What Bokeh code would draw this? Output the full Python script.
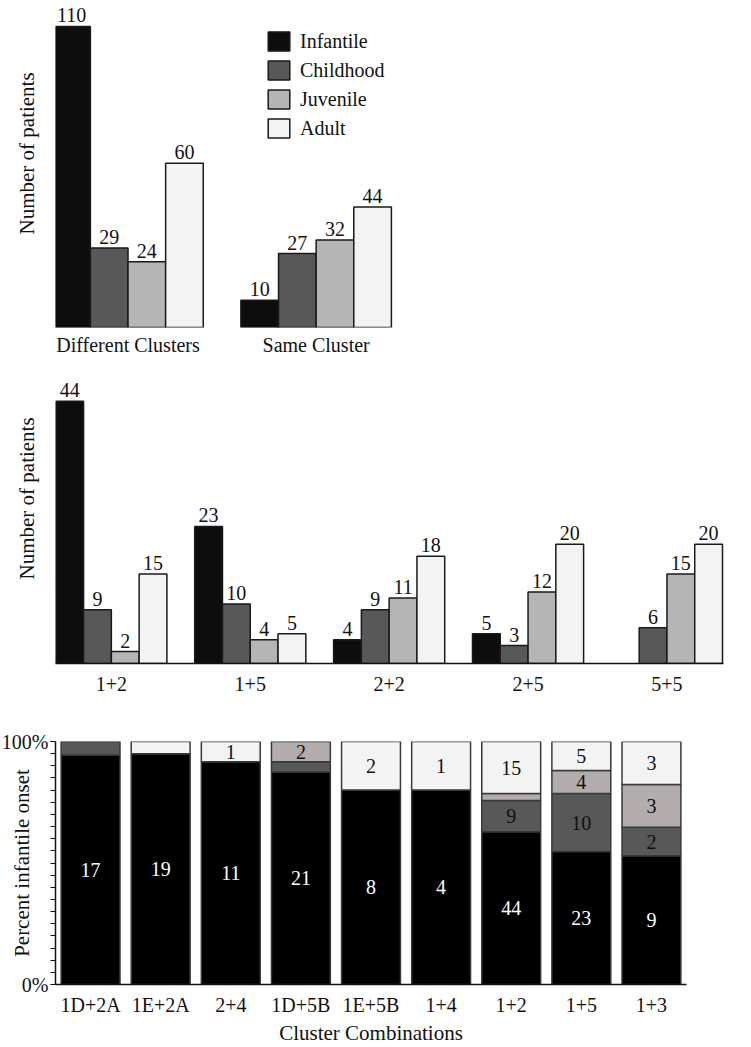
import numpy as np
from bokeh.plotting import figure
from bokeh.models import Range1d, FixedTicker, Legend, LegendItem, ColumnDataSource, Title
from bokeh.layouts import column
from bokeh.core.properties import value
from bokeh.embed import file_html
from bokeh.resources import INLINE

# ---------------- data ----------------
onsets = ["Infantile", "Childhood", "Juvenile", "Adult"]

groups_a = ["Different Clusters", "Same Cluster"]
infantile_a = [110, 10]
childhood_a = [29, 27]
juvenile_a = [24, 32]
adult_a = [60, 44]

groups_b = ["1+2", "1+5", "2+2", "2+5", "5+5"]
infantile_b = [44, 23, 4, 5, 0]
childhood_b = [9, 10, 9, 3, 6]
juvenile_b = [2, 4, 11, 12, 15]
adult_b = [15, 5, 18, 20, 20]

combos_c = ["1D+2A", "1E+2A", "2+4", "1D+5B", "1E+5B", "1+4", "1+2", "1+5", "1+3"]
infantile_c = [17, 19, 11, 21, 8, 4, 44, 23, 9]
childhood_c = [1, 0, 0, 1, 0, 0, 9, 10, 2]
juvenile_c = [0, 0, 0, 2, 0, 0, 2, 4, 3]
adult_c = [0, 1, 1, 0, 2, 1, 15, 5, 3]

# ---------------- style ----------------
FONT = "'Liberation Serif', 'Times New Roman', 'DejaVu Serif', serif"
TOP_COLORS = ["#0d0d0d", "#585858", "#b5b5b5", "#f3f3f3"]
BOT_COLORS = ["#000000", "#585858", "#b3acac", "#f3f3f3"]
OUTLINE = "#1a1a1a"
TXT = "#111111"
LEFT = 55  # common frame left edge (px)
W = 751


def base_fig(**kw):
    p = figure(output_backend="svg", toolbar_location=None, min_border_left=LEFT, **kw)
    p.xgrid.grid_line_color = None
    p.ygrid.grid_line_color = None
    p.outline_line_color = None
    p.background_fill_color = "white"
    p.border_fill_color = "white"
    return p


def grouped_bars(p, series, colors):
    rs = []
    n = len(series)
    for k, (vals, col) in enumerate(zip(series, colors)):
        keep = [j for j, v in enumerate(vals) if v > 0]
        src = ColumnDataSource(dict(
            x=[j + (k - (n - 1) / 2) * 0.2 for j in keep],
            top=[vals[j] for j in keep],
            lab=[str(vals[j]) for j in keep]))
        r = p.vbar(x="x", top="top", bottom=0, width=0.2, source=src,
                   fill_color=col, line_color=OUTLINE, line_width=1.5)
        p.text(x="x", y="top", text="lab", source=src, text_align="center",
               text_baseline="middle", y_offset=-11, text_font=value(FONT),
               text_font_size="20px", text_color=TXT)
        rs.append(r)
    return rs


def cat_axis(p, labels, standoff, line):
    ax = p.xaxis[0]
    ax.ticker = FixedTicker(ticks=list(range(len(labels))))
    ax.major_label_overrides = {i: s for i, s in enumerate(labels)}
    ax.major_tick_line_color = None
    ax.minor_tick_line_color = None
    ax.major_tick_out = 0
    ax.major_tick_in = 0
    ax.minor_tick_out = 0
    ax.minor_tick_in = 0
    ax.major_label_standoff = standoff
    ax.major_label_text_font = FONT
    ax.major_label_text_font_size = "20px"
    ax.major_label_text_color = TXT
    if line:
        ax.axis_line_color = TXT
        ax.axis_line_width = 1.5
    else:
        ax.axis_line_color = None
    return ax


def side_title(p, text, offset):
    ya = p.yaxis[0]
    ya.ticker = FixedTicker(ticks=[0])
    ya.major_label_overrides = {0: ""}
    ya.axis_line_color = None
    ya.major_tick_line_color = None
    ya.minor_tick_line_color = None
    ya.major_tick_out = 13
    ya.major_tick_in = 0
    ya.minor_tick_out = 0
    ya.minor_tick_in = 0
    ya.major_label_standoff = 0
    p.add_layout(Title(text=text, align="left", offset=offset, standoff=8,
                       vertical_align="bottom", text_font=FONT, text_font_size="21px",
                       text_font_style="normal", text_color=TXT), "left")


# ---------------- panel A ----------------
pxA = (328 - 26) / 110.0
startA = -(129 - LEFT) / 192.0
p1 = base_fig(width=W, height=358,
              x_range=Range1d(startA, startA + (W - LEFT) / 192.0),
              y_range=Range1d(0, 328 / pxA),
              min_border_right=0, min_border_top=0, min_border_bottom=30)
rs = grouped_bars(p1, [infantile_a, childhood_a, juvenile_a, adult_a], TOP_COLORS)
cat_axis(p1, groups_a, 6, False)
legend = Legend(items=[LegendItem(label=n, renderers=[r]) for n, r in zip(onsets, rs)],
                location=(265 - LEFT, 328 - 30 - 111), orientation="vertical",
                glyph_width=27, glyph_height=24, label_height=24, spacing=5, padding=0,
                margin=0, label_standoff=8, label_text_font=FONT, label_text_font_size="20px",
                label_text_color=TXT, border_line_color=None, background_fill_alpha=0)
p1.add_layout(legend)
side_title(p1, "Number of patients", 93)

# ---------------- panel B ----------------
pxB = (663 - 400.7) / 44.0
unitB = 141.75
startB = -(112 - LEFT) / unitB
p2 = base_fig(width=W, height=345,
              x_range=Range1d(startB, startB + (W - LEFT) / unitB),
              y_range=Range1d(0, 305 / pxB),
              min_border_right=0, min_border_top=0, min_border_bottom=40)
grouped_bars(p2, [infantile_b, childhood_b, juvenile_b, adult_b], TOP_COLORS)
axB = cat_axis(p2, groups_b, 13, True)
# axis line drawn from x=42px to x=737px (span slightly shorter than the frame)
axB.bounds = (startB - (LEFT - 42) / unitB, startB + (737 - LEFT) / unitB)
side_title(p2, "Number of patients", 84)

# ---------------- panel C ----------------
p3 = base_fig(width=700, height=344, x_range=Range1d(-0.5, 8.5), y_range=Range1d(0, 100),
              min_border_right=14, min_border_top=38, min_border_bottom=63)
counts = np.array([infantile_c, childhood_c, juvenile_c, adult_c], dtype=float)
shares = counts / counts.sum(axis=0) * 100
tops = np.cumsum(shares, axis=0)
bottoms = tops - shares
xs = np.arange(len(combos_c))
for k in range(4):
    keep = counts[k] > 0
    p3.vbar(x=xs[keep], bottom=bottoms[k][keep], top=tops[k][keep], width=0.84,
            fill_color=BOT_COLORS[k], line_color="#3a3a3a", line_width=1.5)
    show = shares[k] >= 7
    p3.text(x=xs[show], y=((bottoms[k] + tops[k]) / 2)[show],
            text=[str(int(c)) for c in counts[k][show]],
            text_align="center", text_baseline="middle", text_font=value(FONT),
            text_font_size="20px", text_color="white" if k == 0 else TXT)
cat_axis(p3, combos_c, 9, True)
p3.xaxis.axis_label = "Cluster Combinations"
p3.xaxis.axis_label_standoff = 2
p3.xaxis.axis_label_text_font = FONT
p3.xaxis.axis_label_text_font_size = "21px"
p3.xaxis.axis_label_text_font_style = "normal"
p3.xaxis.axis_label_text_color = TXT
ya = p3.yaxis[0]
ya.ticker = FixedTicker(ticks=[0, 100], minor_ticks=list(range(0, 101, 5)))
ya.major_label_overrides = {0: "0%", 100: "100%"}
ya.major_tick_out = 5
ya.major_tick_in = 0
ya.minor_tick_out = 5
ya.minor_tick_in = 0
ya.major_label_standoff = 2
ya.major_label_text_font = FONT
ya.major_label_text_font_size = "20px"
ya.major_label_text_color = TXT
ya.axis_line_color = TXT
ya.axis_line_width = 1.5
ya.major_tick_line_color = TXT
ya.minor_tick_line_color = TXT
ya.axis_label = "Percent infantile onset"
ya.axis_label_standoff = -35
ya.axis_label_text_font = FONT
ya.axis_label_text_font_size = "21px"
ya.axis_label_text_font_style = "normal"
ya.axis_label_text_color = TXT

layout = column(p1, p2, p3, spacing=0)
open("out.html", "w").write(file_html(layout, INLINE))
